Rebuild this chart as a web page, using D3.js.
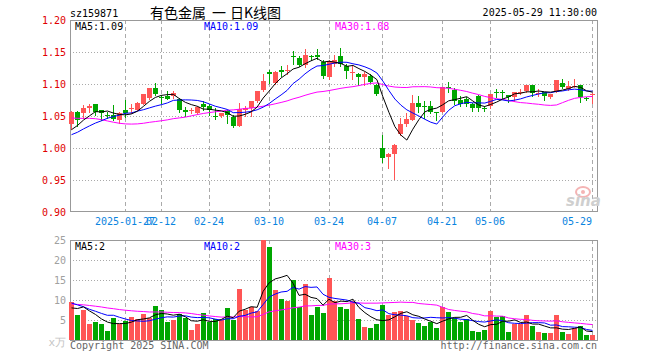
<!DOCTYPE html>
<html>
<head>
<meta charset="utf-8">
<script src="https://cdn.jsdelivr.net/npm/d3@7/dist/d3.min.js"></script>
<style>
body { margin: 0; background: #fff; }
text { font-family: "DejaVu Sans Mono", monospace; font-size: 10px; }
</style>
</head>
<body>
<svg id="chart" width="660" height="360"></svg>
<script>
// trading days shown (2025)
var dates = [
  "01-14","01-15","01-16","01-17","01-20","01-21","01-22","01-23","01-24","01-27",
  "02-05","02-06","02-07","02-10","02-11","02-12","02-13","02-14","02-17","02-18",
  "02-19","02-20","02-21","02-24","02-25","02-26","02-27","02-28","03-03","03-04",
  "03-05","03-06","03-07","03-10","03-11","03-12","03-13","03-14","03-17","03-18",
  "03-19","03-20","03-21","03-24","03-25","03-26","03-27","03-28","03-31","04-01",
  "04-02","04-03","04-07","04-08","04-09","04-10","04-11","04-14","04-15","04-16",
  "04-17","04-18","04-21","04-22","04-23","04-24","04-25","04-28","04-29","04-30",
  "05-06","05-07","05-08","05-09","05-12","05-13","05-14","05-15","05-16","05-19",
  "05-20","05-21","05-22","05-23","05-26","05-27","05-28","05-29"
];

var open = [
  1.037,1.057,1.054,1.062,1.068,1.059,1.052,1.051,1.043,1.059,
  1.061,1.060,1.069,1.078,1.093,1.079,1.082,1.081,1.077,1.060,
  1.058,1.054,1.069,1.065,1.050,1.050,1.058,1.048,1.035,1.060,
  1.063,1.073,1.090,1.119,1.102,1.122,1.121,1.143,1.141,1.129,
  1.143,1.146,1.134,1.111,1.132,1.143,1.128,1.118,1.115,1.111,
  1.113,1.099,1.000,0.986,0.990,1.022,1.037,1.044,1.071,1.066,
  1.066,1.0565,1.057,1.0955,1.091,1.075,1.076,1.068,1.082,1.0625,
  1.065,1.087,1.087,1.083,1.079,1.0878,1.089,1.098,1.0852,1.087,
  1.080,1.088,1.102,1.092,1.0972,1.098,1.0788,1.0837
];
var high = [
  1.058,1.058,1.067,1.068,1.068,1.060,1.057,1.067,1.056,1.075,
  1.068,1.072,1.085,1.094,1.102,1.083,1.089,1.089,1.078,1.064,
  1.063,1.065,1.074,1.068,1.063,1.055,1.060,1.051,1.070,1.065,
  1.074,1.089,1.116,1.122,1.120,1.128,1.129,1.151,1.143,1.154,
  1.146,1.154,1.138,1.138,1.146,1.156,1.132,1.128,1.117,1.118,
  1.115,1.100,1.021,0.992,1.007,1.047,1.054,1.083,1.081,1.074,
  1.074,1.057,1.096,1.103,1.094,1.081,1.080,1.070,1.083,1.065,
  1.085,1.092,1.091,1.083,1.087,1.092,1.098,1.098,1.092,1.088,
  1.085,1.106,1.108,1.104,1.108,1.098,1.080,1.0865
];
var low = [
  1.029,1.034,1.047,1.057,1.052,1.044,1.047,1.043,1.039,1.048,
  1.055,1.059,1.069,1.077,1.083,1.070,1.076,1.078,1.056,1.050,
  1.055,1.053,1.060,1.051,1.046,1.048,1.039,1.033,1.034,1.050,
  1.050,1.072,1.089,1.102,1.100,1.112,1.115,1.132,1.128,1.127,
  1.137,1.139,1.109,1.108,1.128,1.128,1.109,1.108,1.098,1.099,
  1.102,1.083,0.978,0.969,0.951,1.021,1.035,1.043,1.056,1.047,
  1.055,1.043,1.056,1.087,1.069,1.065,1.066,1.058,1.058,1.058,
  1.063,1.080,1.078,1.072,1.074,1.084,1.088,1.081,1.081,1.075,
  1.078,1.087,1.093,1.091,1.096,1.072,1.075,1.070
];
var close = [
  1.057,1.043,1.062,1.065,1.057,1.055,1.050,1.046,1.054,1.054,
  1.062,1.071,1.084,1.093,1.085,1.078,1.077,1.086,1.060,1.056,
  1.060,1.064,1.064,1.059,1.049,1.054,1.051,1.035,1.061,1.062,
  1.073,1.089,1.105,1.115,1.119,1.119,1.122,1.142,1.129,1.146,
  1.142,1.142,1.112,1.136,1.138,1.132,1.120,1.119,1.111,1.116,
  1.103,1.085,0.985,0.990,1.004,1.037,1.046,1.070,1.064,1.065,
  1.057,1.056,1.096,1.095,1.074,1.068,1.068,1.063,1.063,1.062,
  1.084,1.0868,1.0868,1.079,1.087,1.0882,1.098,1.0865,1.0856,1.081,
  1.085,1.106,1.095,1.097,1.0976,1.079,1.0784,1.0841
];
// volume, 万手
var volume = [
  9.6,6.25,7.5,4.0,4.6,4.0,2.3,5.6,4.0,4.7,
  5.75,5.3,6.5,5.4,8.5,7.5,4.6,5.0,6.6,5.4,
  2.5,4.0,6.8,4.6,5.2,5.0,8.1,5.0,12.75,7.6,
  8.2,7.3,25.0,23.3,12.5,10.25,9.8,15.0,8.2,14.0,
  6.25,8.3,6.8,15.6,9.7,8.2,7.7,9.8,5.25,3.2,
  3.0,4.0,8.8,6.2,7.0,7.3,6.0,5.0,4.3,3.6,
  4.5,3.0,8.2,7.1,5.5,4.6,5.3,2.2,2.0,2.5,
  7.25,5.7,6.0,2.1,4.1,4.0,6.25,3.5,2.0,1.7,
  1.7,6.25,1.9,1.6,3.1,3.4,1.2,1.2
];

// sessions before the window, only feed the moving averages
var priorClose = [
  1.060,1.065,1.062,1.075,1.100,1.110,1.105,1.103,
  1.085,1.070,1.062,1.055,1.048,1.050,1.040,1.035,1.030,1.025,1.020,1.000,
  1.005,1.010,1.018,1.012,1.020,
  1.010,1.020,1.032,1.024
];
var priorVolume = [
  9.5,10.5,9.0,10.0,9.8,9.8,
  11.0,10.5,9.5,10.0,
  9.0,8.5,8.8,8.3,
  7.5,7.0,6.8,7.5,7.3,7.3,
  11.0,12.0,10.5,9.5,9.4,
  7.0,5.5,9.0,9.0
];

var tickDates = ["01-27","02-12","02-24","03-10","03-24","04-07","04-21","05-06","05-29"];
var tickLabels = ["2025-01-27","02-12","02-24","03-10","03-24","04-07","04-21","05-06","05-29"];
var priceTicks = [0.90,0.95,1.00,1.05,1.10,1.15,1.20];
var volumeTicks = [5,10,15,20,25];

var left = 70, right = 597,
    pTop = 20, pBottom = 212,
    vTop = 240, vBottom = 340;

var red = "#ff5555", green = "#00a600";

var svg = d3.select("#chart");

var x = d3.scalePoint().domain(dates).range([71, 592]);
var y = d3.scaleLinear().domain([0.90, 1.20]).range([pBottom, pTop]);
var vy = d3.scaleLinear().domain([0, 25]).range([vBottom, vTop]);

function px(d) { return Math.round(x(d)); }
function crisp(v) { return Math.round(v) + 0.5; }

function movingAverage(prior, values, n) {
    var all = prior.concat(values), off = prior.length;
    return values.map(function(v, i) {
        return d3.mean(all.slice(off + i - n + 1, off + i + 1));
    });
}

var ma5 = movingAverage(priorClose, close, 5),
    ma10 = movingAverage(priorClose, close, 10),
    ma30 = movingAverage(priorClose, close, 30);
var vma5 = movingAverage(priorVolume, volume, 5),
    vma10 = movingAverage(priorVolume, volume, 10),
    vma30 = movingAverage(priorVolume, volume, 30);

// header
svg.append("text").attr("x", 70).attr("y", 17).text("sz159871");
var title = svg.append("g")
    .style("font-family", "'Noto Sans CJK SC', sans-serif").style("font-size", "14px");
title.append("text").attr("x", 150).attr("y", 18).style("font-family", "inherit").style("font-size", "inherit").text("有色金属");
title.append("text").attr("x", 212).attr("y", 18).style("font-family", "inherit").style("font-size", "inherit").text("一");
title.append("text").attr("x", 230).attr("y", 18).style("font-family", "inherit").style("font-size", "inherit").text("日K线图");
svg.append("text").attr("x", 597).attr("y", 16).attr("text-anchor", "end")
    .text("2025-05-29 11:30:00");

// grids
var grid = svg.append("g").attr("stroke", "#aaa").attr("fill", "none");
grid.selectAll("line.ph")
    .data(priceTicks.slice(1, -1))
    .enter().append("line")
    .attr("x1", left).attr("x2", right)
    .attr("y1", function(d) { return crisp(y(d)); })
    .attr("y2", function(d) { return crisp(y(d)); })
    .attr("stroke-dasharray", "1,2");
grid.selectAll("line.vh")
    .data(volumeTicks.slice(0, -1))
    .enter().append("line")
    .attr("x1", left).attr("x2", right)
    .attr("y1", function(d) { return crisp(vy(d)); })
    .attr("y2", function(d) { return crisp(vy(d)); })
    .attr("stroke-dasharray", "1,2");
[[pTop, pBottom], [vTop, vBottom]].forEach(function(r) {
    grid.selectAll(null)
        .data(tickDates)
        .enter().append("line")
        .attr("x1", function(d) { return px(d) + 0.5; })
        .attr("x2", function(d) { return px(d) + 0.5; })
        .attr("y1", r[0]).attr("y2", r[1])
        .attr("stroke-dasharray", "4,3");
});

// frames
svg.append("rect").attr("x", left + 0.5).attr("y", pTop + 0.5)
    .attr("width", right - left).attr("height", pBottom - pTop - 1)
    .attr("fill", "none").attr("stroke", "#999");
svg.append("rect").attr("x", left + 0.5).attr("y", vTop + 0.5)
    .attr("width", right - left).attr("height", vBottom - vTop)
    .attr("fill", "none").attr("stroke", "#999");

// sina mark
var mark = svg.append("g").attr("transform", "translate(566,186)");
mark.append("ellipse").attr("cx", 17).attr("cy", 6).attr("rx", 7).attr("ry", 5)
    .attr("fill", "none").attr("stroke", "#f4b4b4").attr("stroke-width", 2);
mark.append("circle").attr("cx", 17).attr("cy", 6).attr("r", 2).attr("fill", "#f4b4b4");
mark.append("text").attr("x", 0).attr("y", 20)
    .style("font-family", "'DejaVu Sans', sans-serif").style("font-size", "15px")
    .style("font-style", "italic").style("font-weight", "bold")
    .attr("fill", "#cfcfcf").text("sina");

// axis labels
svg.selectAll("text.py")
    .data(priceTicks)
    .enter().append("text")
    .attr("x", 66).attr("y", function(d) { return y(d) + 4; })
    .attr("text-anchor", "end").attr("fill", "#e00000")
    .text(function(d) { return d3.format(".2f")(d); });
svg.selectAll("text.vy")
    .data(volumeTicks)
    .enter().append("text")
    .attr("x", 66).attr("y", function(d) { return vy(d) + 4; })
    .attr("text-anchor", "end").attr("fill", "#a0a0a0")
    .text(function(d) { return d; });
svg.append("text").attr("x", 66).attr("y", 346).attr("text-anchor", "end")
    .attr("fill", "#c4c4c4").style("font-size", "11px").text("x万");
svg.selectAll("text.dx")
    .data(tickDates)
    .enter().append("text")
    .attr("x", function(d) { return px(d); })
    .attr("y", 225)
    .attr("text-anchor", function(d, i) { return i == tickDates.length - 1 ? "end" : "middle"; })
    .attr("fill", "#0a84e0")
    .text(function(d, i) { return tickLabels[i]; });

// candles
var candles = svg.append("g");
dates.forEach(function(d, i) {
    var up = close[i] >= open[i], c = up ? red : green, cx = px(d);
    candles.append("line")
        .attr("x1", cx + 0.5).attr("x2", cx + 0.5)
        .attr("y1", Math.round(y(high[i]))).attr("y2", Math.round(y(low[i])) + 1)
        .attr("stroke", c);
    var y0 = Math.round(y(Math.max(open[i], close[i]))),
        y1 = Math.round(y(Math.min(open[i], close[i])));
    candles.append("rect")
        .attr("x", cx - 2).attr("y", y0)
        .attr("width", 5).attr("height", Math.max(1, y1 - y0))
        .attr("fill", c).attr("shape-rendering", "crispEdges");
});

// volume bars
svg.append("g").selectAll("rect")
    .data(volume)
    .enter().append("rect")
    .attr("x", function(d, i) { return px(dates[i]) - 2; })
    .attr("y", function(d) { return Math.round(vy(d)); })
    .attr("width", 5)
    .attr("height", function(d) { return vBottom - Math.round(vy(d)); })
    .attr("fill", function(d, i) { return close[i] >= open[i] ? red : green; })
    .attr("shape-rendering", "crispEdges");

// moving averages
function drawLine(values, scale, color) {
    var line = d3.line()
        .x(function(d, i) { return x(dates[i]) + 0.5; })
        .y(function(d) { return scale(d); });
    svg.append("path").datum(values)
        .attr("d", line).attr("fill", "none")
        .attr("stroke", color).attr("stroke-width", 1);
}
drawLine(ma30, y, "#ff00ff");
drawLine(ma10, y, "#0000ff");
drawLine(ma5, y, "#000");
drawLine(vma30, vy, "#ff00ff");
drawLine(vma10, vy, "#0000ff");
drawLine(vma5, vy, "#000");

var last = dates.length - 1;
var f2 = d3.format(".2f");
svg.append("text").attr("x", 75).attr("y", 30).attr("fill", "#000").text("MA5:" + f2(ma5[last]));
svg.append("text").attr("x", 204).attr("y", 30).attr("fill", "#0000ff").text("MA10:" + f2(ma10[last]));
svg.append("text").attr("x", 335).attr("y", 30).attr("fill", "#ff00ff").text("MA30:" + f2(ma30[last]));
svg.append("text").attr("x", 75).attr("y", 250).attr("fill", "#000").text("MA5:" + Math.floor(vma5[last]));
svg.append("text").attr("x", 204).attr("y", 250).attr("fill", "#0000ff").text("MA10:" + Math.floor(vma10[last]));
svg.append("text").attr("x", 335).attr("y", 250).attr("fill", "#ff00ff").text("MA30:" + Math.floor(vma30[last]));

// footer
svg.append("text").attr("x", 70).attr("y", 349).attr("fill", "#666").text("Copyright 2025 SINA.COM");
svg.append("text").attr("x", 597).attr("y", 349).attr("text-anchor", "end").attr("fill", "#666")
    .text("http://finance.sina.com.cn");
</script>
</body>
</html>
